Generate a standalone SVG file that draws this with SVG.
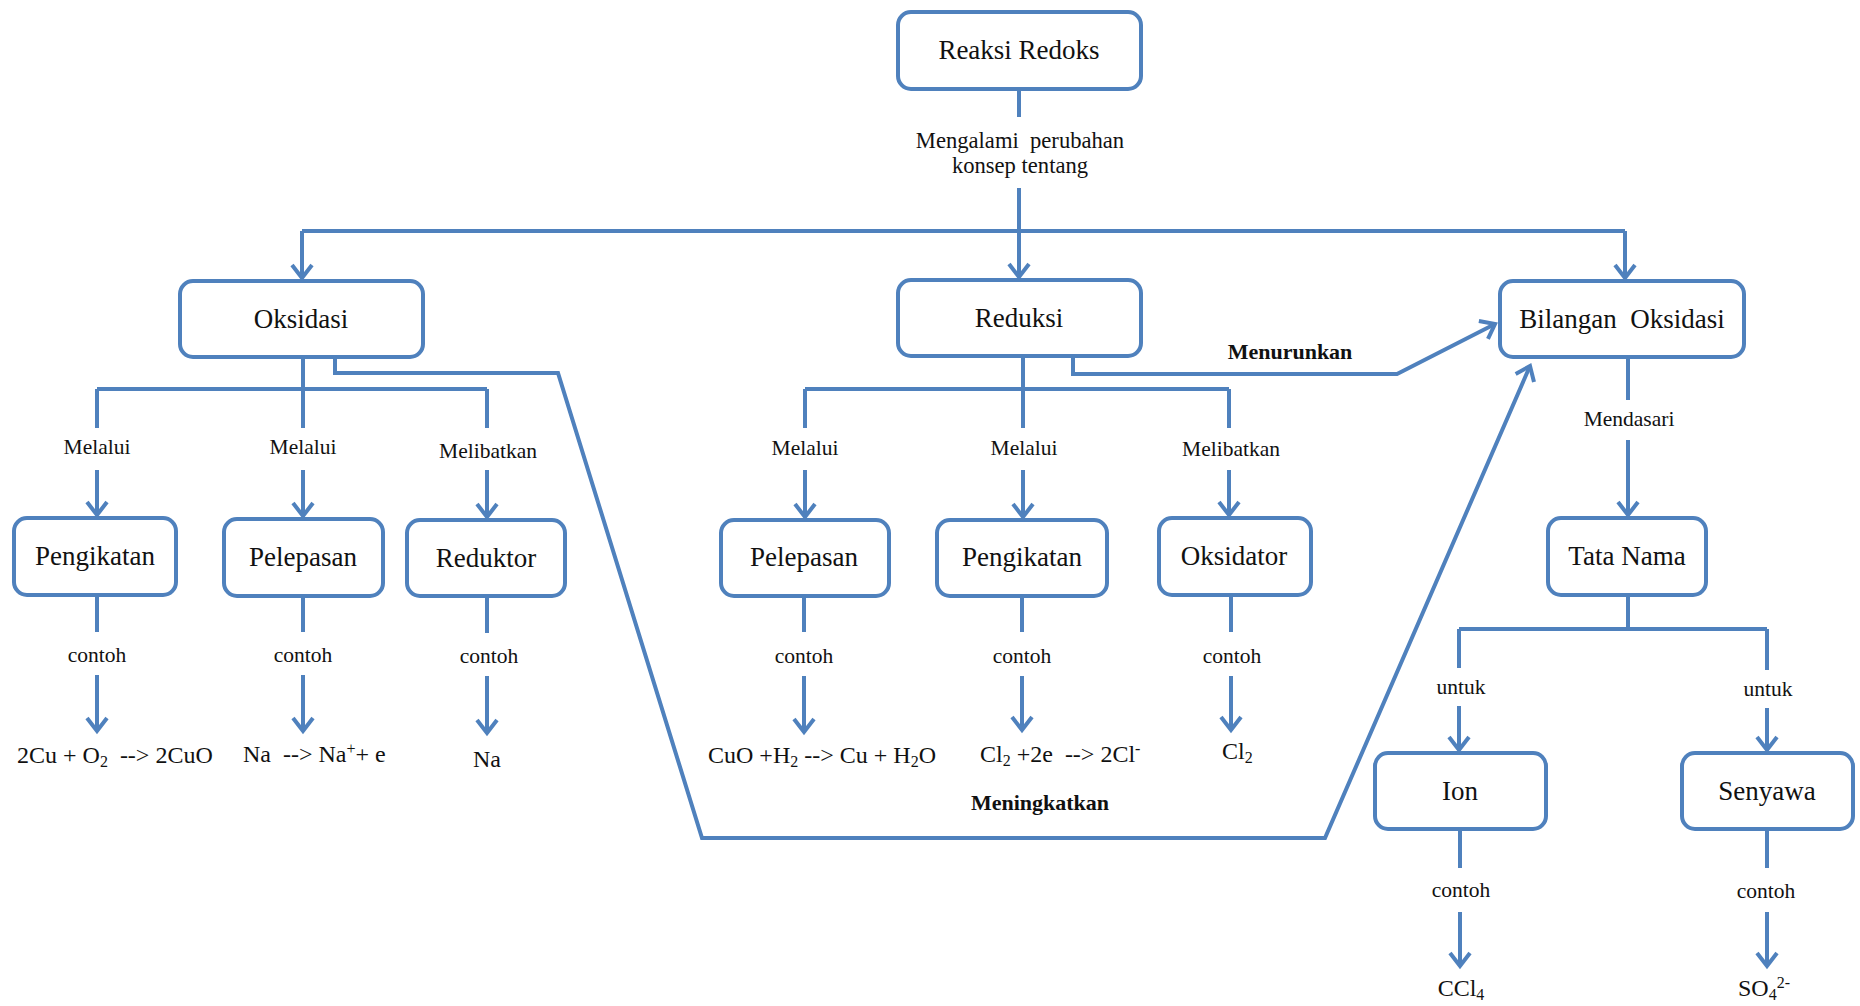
<svg xmlns="http://www.w3.org/2000/svg" width="1860" height="1006" viewBox="0 0 1860 1006">
  <style>
    .box { fill: #ffffff; stroke: #4F81BD; stroke-width: 4; }
    .ln { fill: none; stroke: #4F81BD; stroke-width: 4; stroke-linejoin: miter; stroke-linecap: butt; }
    .arr { marker-end: url(#ah); }
    .txt text { fill: #111111; text-anchor: middle; }
    .node { font-size: 27px; }
    .lbl { font-size: 21.5px; }
    .lbl-top { font-size: 22.6px; }
    .ex { font-size: 24px; }
    .bold { font-size: 22px; font-weight: bold; }
    .st { text-anchor: start !important; }
    .sb { font-size: 16px; }
  </style>
  <defs>
    <marker id="ah" markerUnits="userSpaceOnUse" markerWidth="40" markerHeight="40" viewBox="-20 -20 40 40" refX="0" refY="0" orient="auto" overflow="visible">
      <path d="M-13,-10 L0,0 L-13,10" fill="none" stroke="#4F81BD" stroke-width="4" stroke-linejoin="miter"/>
    </marker>
  </defs>
  <rect width="1860" height="1006" fill="#ffffff"/>

  <!-- connectors -->
  <g id="connectors">
    <!-- root to the three concepts -->
    <path class="ln" d="M1019,89 V117"/>
    <path class="ln" d="M1019,188 V231"/>
    <path class="ln" d="M302,231 H1625"/>
    <path class="ln arr" d="M302,231 V278"/>
    <path class="ln arr" d="M1019,231 V277"/>
    <path class="ln arr" d="M1625,231 V278"/>

    <!-- Oksidasi branches -->
    <path class="ln" d="M303,357 V389"/>
    <path class="ln" d="M97,389 H487"/>
    <path class="ln" d="M97,389 V428"/>
    <path class="ln arr" d="M97,470 V515"/>
    <path class="ln" d="M303,389 V428"/>
    <path class="ln arr" d="M303,470 V516"/>
    <path class="ln" d="M487,389 V428"/>
    <path class="ln arr" d="M487,470 V517"/>
    <path class="ln" d="M97,595 V632"/>
    <path class="ln arr" d="M97,675 V731"/>
    <path class="ln" d="M303,596 V632"/>
    <path class="ln arr" d="M303,675 V731"/>
    <path class="ln" d="M487,596 V633"/>
    <path class="ln arr" d="M487,676 V733"/>

    <!-- Reduksi branches -->
    <path class="ln" d="M1023,356 V389"/>
    <path class="ln" d="M805,389 H1229"/>
    <path class="ln" d="M805,389 V428"/>
    <path class="ln arr" d="M805,470 V517"/>
    <path class="ln" d="M1023,389 V428"/>
    <path class="ln arr" d="M1023,470 V517"/>
    <path class="ln" d="M1229,389 V428"/>
    <path class="ln arr" d="M1229,470 V515"/>
    <path class="ln" d="M804,596 V632"/>
    <path class="ln arr" d="M804,676 V732"/>
    <path class="ln" d="M1022,596 V632"/>
    <path class="ln arr" d="M1022,676 V730"/>
    <path class="ln" d="M1231,595 V632"/>
    <path class="ln arr" d="M1231,676 V730"/>

    <!-- Bilangan Oksidasi branches -->
    <path class="ln" d="M1628,357 V400"/>
    <path class="ln arr" d="M1628,440 V515"/>
    <path class="ln" d="M1628,595 V629"/>
    <path class="ln" d="M1459,629 H1767"/>
    <path class="ln" d="M1459,629 V668"/>
    <path class="ln arr" d="M1459,706 V750"/>
    <path class="ln" d="M1767,629 V670"/>
    <path class="ln arr" d="M1767,708 V750"/>
    <path class="ln" d="M1460,829 V868"/>
    <path class="ln arr" d="M1460,912 V966"/>
    <path class="ln" d="M1767,829 V868"/>
    <path class="ln arr" d="M1767,912 V966"/>

    <!-- cross links to Bilangan Oksidasi -->
    <path class="ln arr" d="M335,357 V373 H558 L702,838 H1325 L1530,366"/>
    <path class="ln arr" d="M1073,356 V374 H1397 L1495,324"/>
  </g>

  <!-- connector labels -->
  <g id="labels" class="txt" font-family="'Liberation Serif', 'Times New Roman', 'DejaVu Serif', serif">
    <text class="lbl-top" x="1020" y="148" xml:space="preserve">Mengalami  perubahan</text>
    <text class="lbl-top" x="1020" y="173">konsep tentang</text>

    <text class="lbl" x="97" y="454">Melalui</text>
    <text class="lbl" x="303" y="454">Melalui</text>
    <text class="lbl" x="488" y="458">Melibatkan</text>
    <text class="lbl" x="97" y="662">contoh</text>
    <text class="lbl" x="303" y="662">contoh</text>
    <text class="lbl" x="489" y="663">contoh</text>

    <text class="lbl" x="805" y="455">Melalui</text>
    <text class="lbl" x="1024" y="455">Melalui</text>
    <text class="lbl" x="1231" y="456">Melibatkan</text>
    <text class="lbl" x="804" y="663">contoh</text>
    <text class="lbl" x="1022" y="663">contoh</text>
    <text class="lbl" x="1232" y="663">contoh</text>

    <text class="lbl" x="1629" y="426">Mendasari</text>
    <text class="lbl" x="1461" y="694">untuk</text>
    <text class="lbl" x="1768" y="696">untuk</text>
    <text class="lbl" x="1461" y="897">contoh</text>
    <text class="lbl" x="1766" y="898">contoh</text>

    <text class="bold" x="1290" y="359">Menurunkan</text>
    <text class="bold" x="1040" y="810">Meningkatkan</text>
  </g>

  <!-- examples -->
  <g id="examples" class="txt" font-family="'Liberation Serif', 'Times New Roman', 'DejaVu Serif', serif">
    <text class="ex st" x="17" y="763" xml:space="preserve">2Cu + O<tspan class="sb" baseline-shift="-4">2</tspan>  --&gt; 2CuO</text>
    <text class="ex st" x="243" y="762" xml:space="preserve">Na  --&gt; Na<tspan class="sb" baseline-shift="8">+</tspan>+ e</text>
    <text class="ex" x="487" y="767">Na</text>
    <text class="ex st" x="708" y="763" xml:space="preserve">CuO +H<tspan class="sb" baseline-shift="-4">2</tspan> --&gt; Cu + H<tspan class="sb" baseline-shift="-4">2</tspan>O</text>
    <text class="ex st" x="980" y="762" xml:space="preserve">Cl<tspan class="sb" baseline-shift="-4">2</tspan> +2e  --&gt; 2Cl<tspan class="sb" baseline-shift="8">-</tspan></text>
    <text class="ex st" x="1222" y="759">Cl<tspan class="sb" baseline-shift="-4">2</tspan></text>
    <text class="ex" x="1461" y="996">CCl<tspan class="sb" baseline-shift="-4">4</tspan></text>
    <text class="ex st" x="1738" y="996">SO<tspan class="sb" baseline-shift="-4">4</tspan><tspan class="sb" baseline-shift="8">2-</tspan></text>
  </g>

  <!-- nodes -->
  <g class="txt" font-family="'Liberation Serif', 'Times New Roman', 'DejaVu Serif', serif">
    <g id="n-reaksi-redoks"><rect class="box" x="898" y="12" width="243" height="77" rx="13"/><text class="node" x="1019" y="59">Reaksi Redoks</text></g>
    <g id="n-oksidasi"><rect class="box" x="180" y="281" width="243" height="76" rx="13"/><text class="node" x="301" y="328">Oksidasi</text></g>
    <g id="n-reduksi"><rect class="box" x="898" y="280" width="243" height="76" rx="13"/><text class="node" x="1019" y="327">Reduksi</text></g>
    <g id="n-bilangan-oksidasi"><rect class="box" x="1500" y="281" width="244" height="76" rx="13"/><text class="node" x="1622" y="328" xml:space="preserve">Bilangan  Oksidasi</text></g>
    <g id="n-pengikatan-oks"><rect class="box" x="14" y="518" width="162" height="77" rx="13"/><text class="node" x="95" y="565">Pengikatan</text></g>
    <g id="n-pelepasan-oks"><rect class="box" x="224" y="519" width="159" height="77" rx="13"/><text class="node" x="303" y="566">Pelepasan</text></g>
    <g id="n-reduktor"><rect class="box" x="407" y="520" width="158" height="76" rx="13"/><text class="node" x="486" y="567">Reduktor</text></g>
    <g id="n-pelepasan-red"><rect class="box" x="721" y="520" width="168" height="76" rx="13"/><text class="node" x="804" y="566">Pelepasan</text></g>
    <g id="n-pengikatan-red"><rect class="box" x="937" y="520" width="170" height="76" rx="13"/><text class="node" x="1022" y="566">Pengikatan</text></g>
    <g id="n-oksidator"><rect class="box" x="1159" y="518" width="152" height="77" rx="13"/><text class="node" x="1234" y="565">Oksidator</text></g>
    <g id="n-tata-nama"><rect class="box" x="1548" y="518" width="158" height="77" rx="13"/><text class="node" x="1627" y="565">Tata Nama</text></g>
    <g id="n-ion"><rect class="box" x="1375" y="753" width="171" height="76" rx="13"/><text class="node" x="1460" y="800">Ion</text></g>
    <g id="n-senyawa"><rect class="box" x="1682" y="753" width="171" height="76" rx="13"/><text class="node" x="1767" y="800">Senyawa</text></g>
  </g>
</svg>
